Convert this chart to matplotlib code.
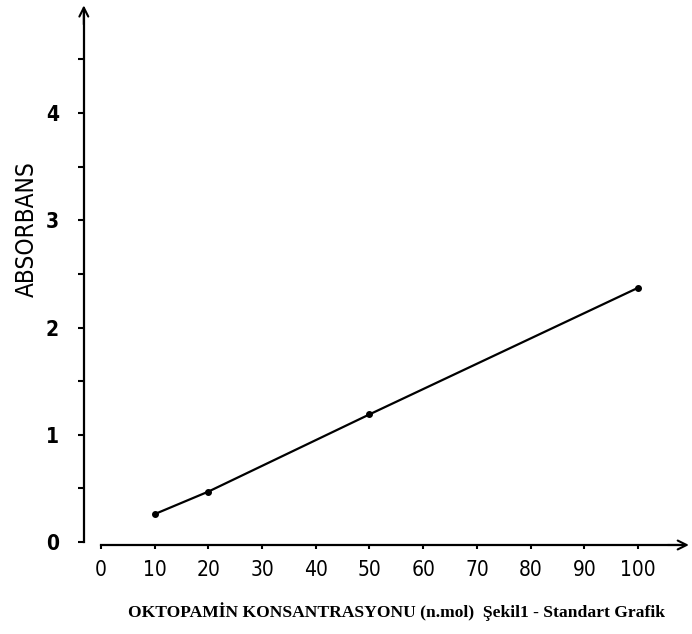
import matplotlib
matplotlib.use('Agg')
import matplotlib.pyplot as plt
import numpy as np

# Standard curve: octopamine concentration vs absorbance
konsantrasyon = [10, 20, 50, 100]          # n.mol
absorbans = [0.26, 0.47, 1.19, 2.37]

x_ticks = [0, 10, 20, 30, 40, 50, 60, 70, 80, 90, 100]
y_ticks = [0, 1, 2, 3, 4]
y_minor = [0.5, 1.5, 2.5, 3.5, 4.5]

tick_font = ['DejaVu Sans']

fig = plt.figure(figsize=(6.92, 6.34), dpi=100)
ax = fig.add_axes([0, 0, 1, 1])
ax.set_xlim(-18.81, 110.06)
ax.set_ylim(-0.858, 5.054)
ax.patch.set_alpha(0)

x_axis_y = -0.028
y_axis_x = -3.2

for s in ['top', 'right']:
    ax.spines[s].set_visible(False)
ax.spines['bottom'].set_position(('data', x_axis_y))
ax.spines['bottom'].set_bounds(0, 108)
ax.spines['left'].set_position(('data', y_axis_x))
ax.spines['left'].set_bounds(0, 4.95)
ax.spines['bottom'].set_linewidth(1.6)
ax.spines['left'].set_linewidth(1.6)

# arrow heads at the end of the axes
ax.annotate('', xy=(110, x_axis_y), xytext=(105, x_axis_y),
            arrowprops=dict(arrowstyle='->', lw=1.5, color='black',
                            mutation_scale=16))
ax.annotate('', xy=(y_axis_x, 5.03), xytext=(y_axis_x, 4.8),
            arrowprops=dict(arrowstyle='->', lw=1.5, color='black',
                            mutation_scale=16))

ax.set_xticks(x_ticks)
ax.set_xticklabels([str(v) for v in x_ticks], fontsize=15, family=tick_font,
                   fontstretch='condensed')
ax.set_yticks(y_ticks)
ax.set_yticklabels([str(v) for v in y_ticks], fontsize=15, family=tick_font,
                   fontstretch='condensed', fontweight='bold')
ax.set_yticks(y_minor, minor=True)
ax.tick_params(axis='x', direction='out', length=3, width=1.5, pad=8)
ax.tick_params(axis='y', which='major', direction='out', length=4, width=1.5, pad=14)
ax.tick_params(axis='y', which='minor', direction='out', length=4, width=1.5)

ax.plot(konsantrasyon, absorbans, color='black', lw=1.6,
        marker='o', markersize=4, zorder=5)

fig.text(27 / 692, 1 - 229 / 634, 'ABSORBANS', rotation=90, fontsize=17.5,
         family=tick_font, fontstretch='condensed', ha='center', va='center')

fig.text(396 / 692, 1 - 612 / 634,
         'OKTOPAMİN KONSANTRASYONU (n.mol)  Şekil1 - Standart Grafik',
         fontsize=12.6, family=['Liberation Serif', 'DejaVu Serif'],
         fontweight='bold', ha='center', va='center')

fig.savefig('out.png', dpi=100)
